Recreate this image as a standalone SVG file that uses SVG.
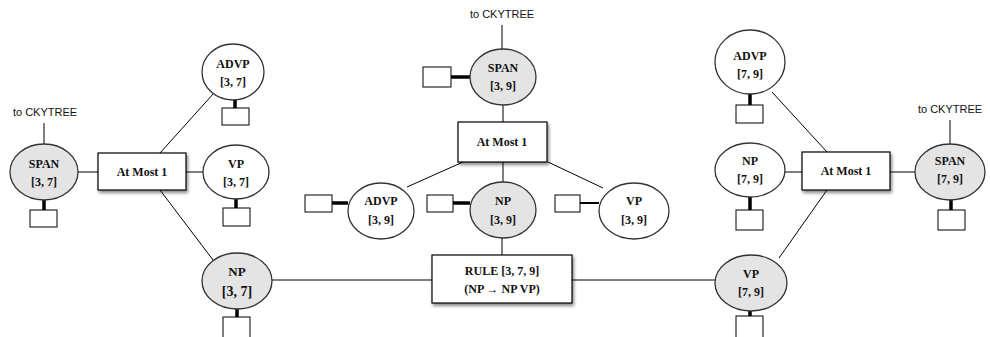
<svg xmlns="http://www.w3.org/2000/svg" width="990" height="337" viewBox="0 0 990 337">
<style>
.ln{stroke:#000;stroke-width:1;fill:none}
.tk{stroke:#000;stroke-width:3.5;fill:none}
.g{fill:#e4e4e4;stroke:#333;stroke-width:1.3}
.w{fill:#fff;stroke:#333;stroke-width:1.3}
.bx{fill:#fff;stroke:#000;stroke-width:1.2}
.sb{fill:#fff;stroke:#000;stroke-width:1}
.t{font-family:"Liberation Serif",serif;font-weight:bold;font-size:12px;text-anchor:middle;fill:#111}
.s{font-family:"Liberation Sans",sans-serif;font-size:11px;text-anchor:middle;fill:#111}
</style>
<defs>
<filter id="sh" x="-20%" y="-20%" width="150%" height="160%">
<feDropShadow dx="1.5" dy="2.5" stdDeviation="1.8" flood-color="#000" flood-opacity="0.45"/>
</filter>
<filter id="soft" x="-10%" y="-10%" width="120%" height="120%">
<feGaussianBlur stdDeviation="0.4"/>
</filter>
</defs>
<g id="connectors">
<line class="ln" x1="44" y1="123" x2="44" y2="144"/>
<line class="ln" x1="78" y1="172" x2="98" y2="172"/>
<line class="ln" x1="186" y1="172" x2="203" y2="172"/>
<line class="ln" x1="160" y1="153" x2="214" y2="93"/>
<line class="ln" x1="160" y1="190" x2="213" y2="260"/>
<line class="ln" x1="272" y1="280" x2="432" y2="280"/>
<line class="ln" x1="502" y1="25" x2="502" y2="49"/>
<line class="ln" x1="503" y1="105" x2="503" y2="122"/>
<line class="ln" x1="463" y1="162" x2="407" y2="187"/>
<line class="ln" x1="503" y1="162" x2="503" y2="183"/>
<line class="ln" x1="548" y1="162" x2="603" y2="188"/>
<line class="ln" x1="502" y1="238" x2="502" y2="255"/>
<line class="ln" x1="572" y1="280" x2="715" y2="280"/>
<line class="ln" x1="772" y1="92" x2="827" y2="152"/>
<line class="ln" x1="785" y1="172" x2="802" y2="172"/>
<line class="ln" x1="890" y1="172" x2="916" y2="172"/>
<line class="ln" x1="950" y1="120" x2="950" y2="144"/>
<line class="ln" x1="827" y1="190" x2="779" y2="258"/>
<line class="tk" x1="44" y1="200" x2="44" y2="210"/>
<line class="tk" x1="236" y1="199" x2="236" y2="208"/>
<line class="tk" x1="235" y1="100" x2="235" y2="108"/>
<line class="tk" x1="237" y1="309" x2="237" y2="317"/>
<line class="tk" x1="451" y1="77" x2="470" y2="77"/>
<line class="tk" x1="332" y1="203" x2="348" y2="203"/>
<line class="tk" x1="453" y1="203" x2="470" y2="203"/>
<line class="ln" x1="580" y1="203" x2="599" y2="203" style="stroke-width:2"/>
<line class="tk" x1="750" y1="94" x2="750" y2="105"/>
<line class="tk" x1="750" y1="197" x2="750" y2="210"/>
<line class="tk" x1="951" y1="200" x2="951" y2="210"/>
<line class="tk" x1="750" y1="311" x2="750" y2="317"/>
</g>
<g id="left-cky"><text class="s" x="45" y="116">to CKYTREE</text></g>
<g id="span37"><ellipse class="g" filter="url(#soft)" cx="44" cy="172" rx="34" ry="28"/><text class="t" x="44" y="168">SPAN</text><text class="t" x="44" y="186">[3, 7]</text><rect class="sb" x="30" y="210" width="27" height="17"/></g>
<g id="atmost-left"><rect class="bx" filter="url(#sh)" x="98" y="153" width="88" height="37"/><text class="t" x="142" y="176">At Most 1</text></g>
<g id="advp37"><ellipse class="w" filter="url(#soft)" cx="233" cy="72" rx="31" ry="28"/><text class="t" x="233" y="68">ADVP</text><text class="t" x="233" y="86">[3, 7]</text><rect class="sb" x="222" y="108" width="27" height="17"/></g>
<g id="vp37"><ellipse class="w" filter="url(#soft)" cx="236" cy="172" rx="33" ry="27"/><text class="t" x="236" y="168">VP</text><text class="t" x="236" y="186">[3, 7]</text><rect class="sb" x="223" y="208" width="27" height="18"/></g>
<g id="np37"><ellipse class="g" filter="url(#soft)" cx="237" cy="281" rx="35" ry="28"/><text class="t" x="237" y="276" style="font-size:13px">NP</text><text class="t" x="237" y="296" style="font-size:14px">[3, 7]</text><rect class="sb" x="223" y="317" width="27" height="22"/></g>
<g id="mid-cky"><text class="s" x="502" y="18">to CKYTREE</text></g>
<g id="span39"><ellipse class="g" filter="url(#soft)" cx="503" cy="77" rx="33" ry="28"/><text class="t" x="503" y="72">SPAN</text><text class="t" x="503" y="90">[3, 9]</text><rect class="sb" x="423" y="67" width="28" height="20"/></g>
<g id="atmost-mid"><rect class="bx" filter="url(#sh)" x="458" y="122" width="89" height="40"/><text class="t" x="502" y="146">At Most 1</text></g>
<g id="advp39"><ellipse class="w" filter="url(#soft)" cx="381" cy="211" rx="33" ry="28"/><text class="t" x="381" y="205">ADVP</text><text class="t" x="381" y="224">[3, 9]</text><rect class="sb" x="305" y="195" width="27" height="17"/></g>
<g id="np39"><ellipse class="g" filter="url(#soft)" cx="503" cy="210" rx="33" ry="28"/><text class="t" x="503" y="205">NP</text><text class="t" x="503" y="224">[3, 9]</text><rect class="sb" x="427" y="195" width="26" height="17"/></g>
<g id="vp39"><ellipse class="w" filter="url(#soft)" cx="634" cy="211" rx="35" ry="28"/><text class="t" x="634" y="205">VP</text><text class="t" x="634" y="224">[3, 9]</text><rect class="sb" x="555" y="195" width="25" height="17"/></g>
<g id="rule"><rect class="bx" filter="url(#sh)" x="432" y="255" width="140" height="48"/><text class="t" x="502" y="275">RULE [3, 7, 9]</text><text class="t" x="502" y="293">(NP → NP VP)</text></g>
<g id="advp79"><ellipse class="w" filter="url(#soft)" cx="750" cy="62" rx="35" ry="32"/><text class="t" x="750" y="60">ADVP</text><text class="t" x="750" y="78">[7, 9]</text><rect class="sb" x="736" y="105" width="27" height="18"/></g>
<g id="np79"><ellipse class="w" filter="url(#soft)" cx="750" cy="170" rx="35" ry="27"/><text class="t" x="750" y="165">NP</text><text class="t" x="750" y="183">[7, 9]</text><rect class="sb" x="736" y="210" width="27" height="20"/></g>
<g id="atmost-right"><rect class="bx" filter="url(#sh)" x="802" y="152" width="88" height="38"/><text class="t" x="846" y="175">At Most 1</text></g>
<g id="right-cky"><text class="s" x="950" y="113">to CKYTREE</text></g>
<g id="span79"><ellipse class="g" filter="url(#soft)" cx="950" cy="172" rx="35" ry="28"/><text class="t" x="950" y="165">SPAN</text><text class="t" x="950" y="183">[7, 9]</text><rect class="sb" x="938" y="210" width="27" height="20"/></g>
<g id="vp79"><ellipse class="g" filter="url(#soft)" cx="751" cy="283" rx="36" ry="28"/><text class="t" x="751" y="278">VP</text><text class="t" x="751" y="296">[7, 9]</text><rect class="sb" x="736" y="316" width="27" height="22"/></g>
</svg>
